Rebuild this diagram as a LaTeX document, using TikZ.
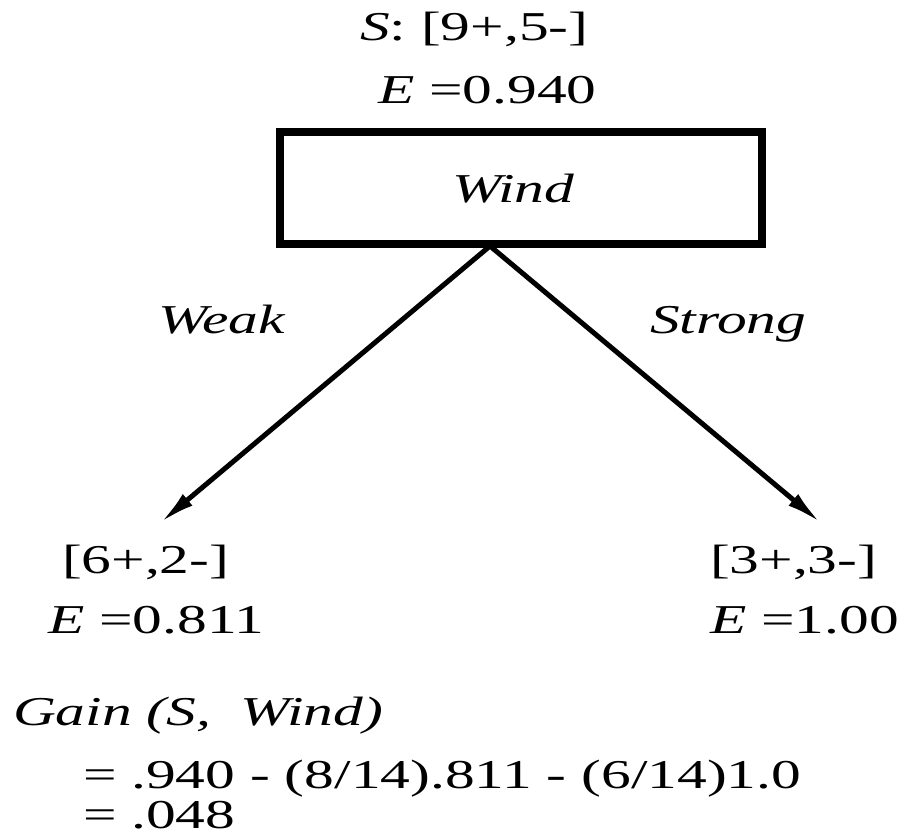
\documentclass[tikz,border=0pt]{standalone}
\usepackage{fontspec}
\setmainfont{Liberation Serif}
\usetikzlibrary{arrows.meta}

% the lettering is set wide: every label is stretched horizontally
\newcommand\wide[1]{\scalebox{1.45}[1]{#1}}

\tikzset{
  lbl/.style={inner sep=0pt, outer sep=0pt, anchor=base west,
              font=\fontsize{41}{49}\selectfont},
  attrbox/.style={draw=black, line width=7.5pt, fill=white},
  branch/.style={line width=5pt, -{Latex[length=36pt,width=15pt]}},
}

\begin{document}
\begin{tikzpicture}[x=1pt, y=-1pt]
  \useasboundingbox (0,0) rectangle (900,837);

  % root statistics
  \node[lbl] (rootset) at (360,41)  {\wide{\textit{S}: [9+,5-]}};
  \node[lbl] (rootent) at (378,104) {\wide{\textit{E} =0.940}};

  % attribute box
  \draw[attrbox] (280,132) rectangle (762,244);
  \node[lbl] (attr) at (452,203) {\wide{\textit{Wind}}};

  % branches
  \coordinate (apex) at (490,246);
  \coordinate (tipL) at (160,523);
  \coordinate (tipR) at (821,523);
  \draw[branch] (apex) -- (tipL);
  \draw[branch] (apex) -- (tipR);

  \node[lbl] (weak)   at (158,333) {\wide{\textit{Weak}}};
  \node[lbl] (strong) at (650,333) {\wide{\textit{Strong}}};

  % leaf statistics
  \node[lbl] (leftset)  at (62,573)  {\wide{[6+,2-]}};
  \node[lbl] (leftent)  at (48,633)  {\wide{\textit{E} =0.811}};
  \node[lbl] (rightset) at (710,573) {\wide{[3+,3-]}};
  \node[lbl] (rightent) at (710,633) {\wide{\textit{E} =1.00}};

  % information gain
  \node[lbl] (gain)  at (13,725) {\wide{\textit{Gain (S,\ \ Wind)}}};
  \node[lbl] (calc)  at (83,788) {\wide{= .940 - (8/14).811 - (6/14)1.0}};
  \node[lbl] (value) at (83,828) {\wide{= .048}};
\end{tikzpicture}
\end{document}
